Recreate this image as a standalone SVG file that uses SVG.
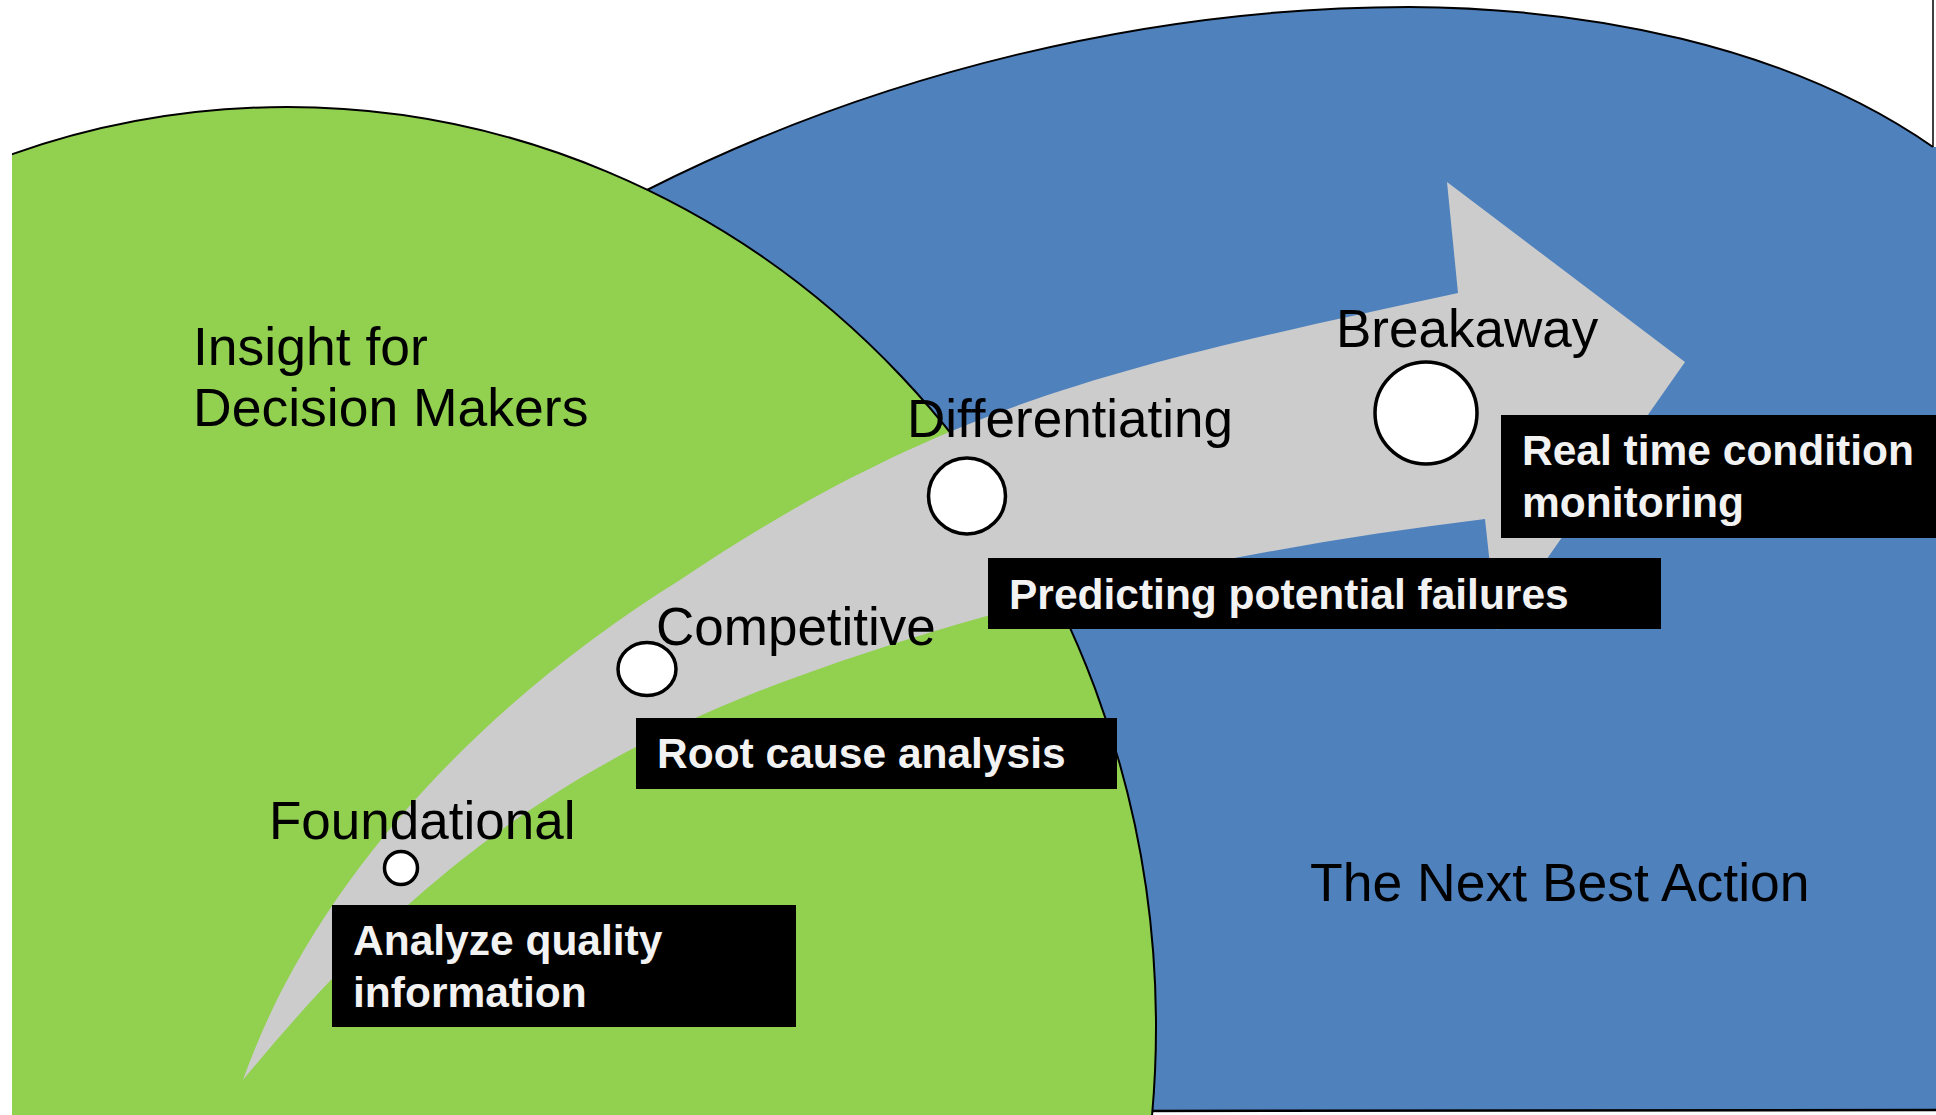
<svg xmlns="http://www.w3.org/2000/svg" width="1936" height="1115" viewBox="0 0 1936 1115">
<defs>
<clipPath id="leftClip"><rect x="12" y="0" width="1924" height="1115"/></clipPath>
<style>
.lbl{font-family:"Liberation Sans",Arial,sans-serif;font-size:53px;fill:#000}
.head{font-family:"Liberation Sans",Arial,sans-serif;font-size:53.5px;fill:#000}
.box{fill:#000}
.btxt{font-family:"Liberation Sans",Arial,sans-serif;font-weight:bold;font-size:42.5px;fill:#F2F2F2}
.dot{fill:#fff;stroke:#000;stroke-width:3.5}
</style>
</defs>
<rect x="0" y="0" width="1936" height="1115" fill="#fff"/>
<g id="blue-region">
<path d="M 647,190 C 878,73 1149,7 1409,7 C 1585,8 1785,44 1933,147 L 1940,147 L 1940,1111 L 1140,1111 L 700,400 Z" fill="#4F81BD"/>
<path d="M 647,190 C 878,73 1149,7 1409,7 C 1585,8 1785,44 1933,147" fill="none" stroke="#000" stroke-width="2"/>
<line x1="1140" y1="1111" x2="1936" y2="1110" stroke="#000" stroke-width="2.5"/>
<line x1="1933" y1="0" x2="1933" y2="147" stroke="#000" stroke-width="1.5"/>
</g>
<g id="green-region" clip-path="url(#leftClip)">
<ellipse cx="287" cy="1027" rx="869" ry="920" fill="#92D050" stroke="#000" stroke-width="2"/>
</g>
<g id="arrow">
<path d="M 243,1080 C 316,873 493,696 680,580 C 950,398 1136,363 1458,293 L 1447,182 L 1685,362 L 1497,630 L 1485,519 C 1247,548 1005,599 780,683 C 530,777 382,911 243,1080 Z" fill="#CCCCCC"/>
</g>
<g id="region-labels">
<text class="head" x="193" y="365">Insight for</text>
<text class="head" x="193" y="426">Decision Makers</text>
<text class="head" x="1310" y="901">The Next Best Action</text>
</g>
<g id="stage-foundational">
<ellipse class="dot" cx="401" cy="868" rx="16.5" ry="16.5"/>
<text class="lbl" x="269" y="839">Foundational</text>
</g>
<g id="stage-competitive">
<ellipse class="dot" cx="647" cy="669" rx="29" ry="26.5"/>
<text class="lbl" x="656" y="645">Competitive</text>
</g>
<g id="stage-differentiating">
<ellipse class="dot" cx="967" cy="496" rx="38.5" ry="38"/>
<text class="lbl" x="907" y="437">Differentiating</text>
</g>
<g id="stage-breakaway">
<ellipse class="dot" cx="1426" cy="413" rx="51" ry="51"/>
<text class="lbl" x="1336" y="347">Breakaway</text>
</g>
<g id="box-analyze">
<rect class="box" x="332" y="905" width="464" height="122"/>
<text class="btxt" x="353" y="955">Analyze quality</text>
<text class="btxt" x="353" y="1007">information</text>
</g>
<g id="box-root">
<rect class="box" x="636" y="718" width="481" height="71"/>
<text class="btxt" x="657" y="768">Root cause analysis</text>
</g>
<g id="box-predicting">
<rect class="box" x="988" y="558" width="673" height="71"/>
<text class="btxt" x="1009" y="609">Predicting potential failures</text>
</g>
<g id="box-realtime">
<rect class="box" x="1501" y="415" width="435" height="123"/>
<text class="btxt" x="1522" y="465">Real time condition</text>
<text class="btxt" x="1522" y="517">monitoring</text>
</g>
</svg>
